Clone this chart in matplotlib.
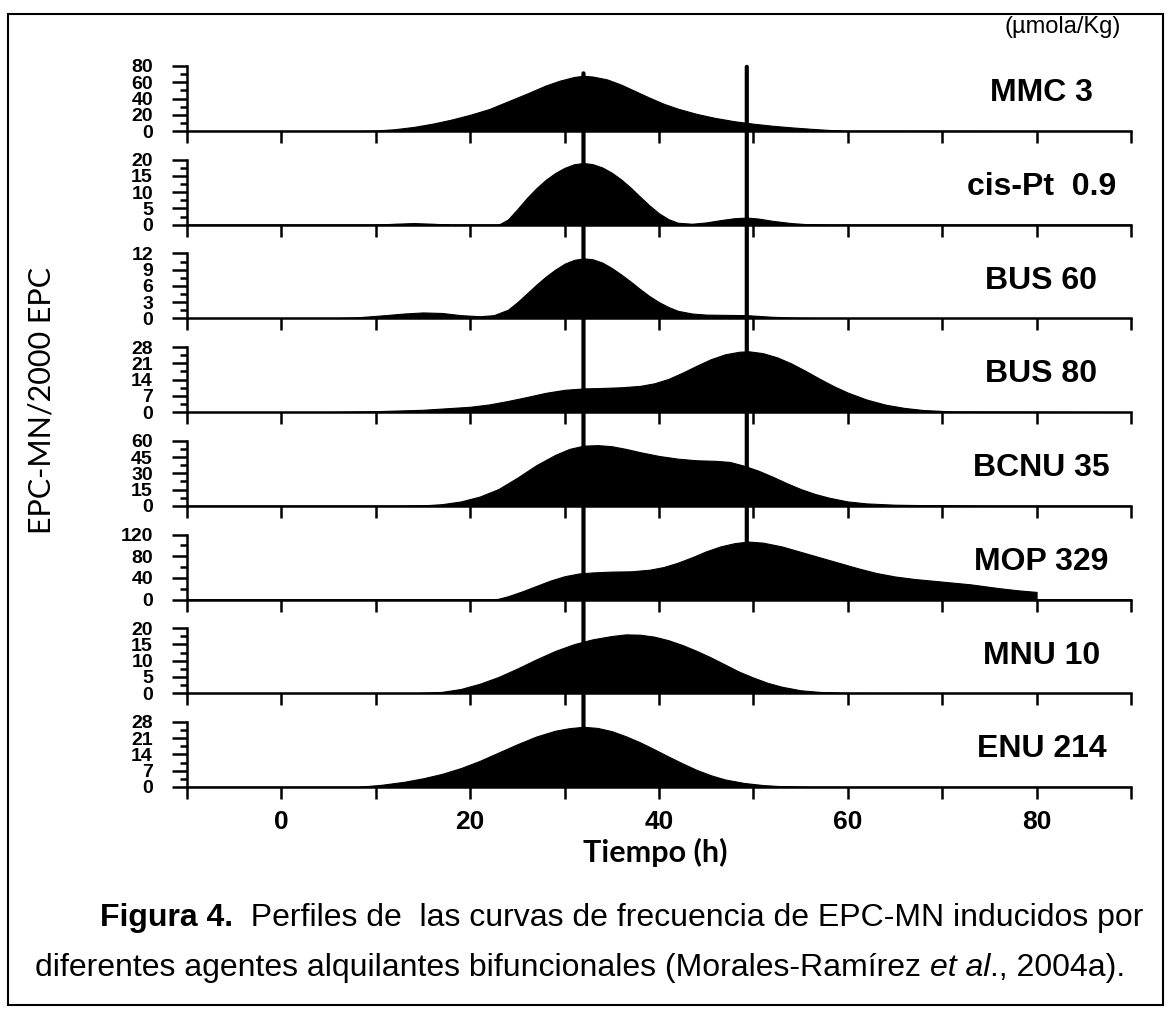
import numpy as np
import matplotlib
matplotlib.use("Agg")
import matplotlib.pyplot as plt
from matplotlib.patches import ConnectionPatch, Rectangle
from matplotlib.ticker import MultipleLocator

plt.rcParams['font.family'] = ['Liberation Sans', 'DejaVu Sans']

# agents and dose (µmola/Kg), top to bottom
agents = ["MMC 3", "cis-Pt  0.9", "BUS 60", "BUS 80", "BCNU 35", "MOP 329", "MNU 10", "ENU 214"]
y_ticks = [
    [0, 20, 40, 60, 80],
    [0, 5, 10, 15, 20],
    [0, 3, 6, 9, 12],
    [0, 7, 14, 21, 28],
    [0, 15, 30, 45, 60],
    [0, 40, 80, 120],
    [0, 5, 10, 15, 20],
    [0, 7, 14, 21, 28],
]

# curves: time (h) and EPC-MN/2000 EPC
mmc_t = [-10, 0, 8, 10, 12, 14, 16, 18, 20, 22, 24, 26, 28, 29.5, 31, 32, 33, 34.5, 36, 37.5, 39, 40.5, 42, 44, 46, 48, 50, 52, 54, 56, 58, 60, 90]
mmc_y = [0, 0, 0, 0.6, 2.2, 5, 9, 14, 20, 27, 36.5, 46, 56, 62, 66.5, 68, 67, 63.5, 57, 49, 41, 33.5, 27.5, 21, 16, 12, 9, 6.5, 4.5, 2.8, 1.3, 0.3, 0]

cis_t = [-10, 10, 12, 14, 16, 18, 23, 24, 25, 26, 27, 28, 29, 30, 31, 32, 33, 34, 35, 36, 37, 38, 39, 40, 41, 42, 43.5, 45, 46.5, 48, 49.3, 50.5, 52, 54, 56, 58, 90]
cis_y = [0, 0, 0.3, 0.5, 0.3, 0, 0, 1.6, 4.8, 8.2, 11.2, 13.8, 15.9, 17.5, 18.6, 19, 18.6, 17.6, 16, 13.9, 11.4, 8.6, 5.9, 3.5, 1.7, 0.6, 0.3, 0.7, 1.4, 2.0, 2.2, 1.9, 1.2, 0.5, 0.1, 0, 0]

bus60_t = [-10, 5, 8, 11, 13, 15, 17, 19, 21, 22.5, 24, 25, 26, 27, 28, 29, 30, 31, 32, 33, 34, 35, 36, 37, 38, 39, 40, 41, 42, 43.5, 45, 49.3, 52, 55, 60, 90]
bus60_y = [0, 0, 0.2, 0.6, 0.9, 1.1, 1.0, 0.6, 0.4, 0.6, 1.6, 3.0, 4.6, 6.2, 7.7, 9.0, 10.1, 10.8, 11.1, 10.9, 10.3, 9.3, 8.1, 6.8, 5.4, 4.1, 3.0, 2.1, 1.4, 0.9, 0.7, 0.6, 0.3, 0.1, 0, 0]

bus80_t = [-10, 5, 10, 15, 20, 22, 24, 26, 28, 30, 32, 34, 36, 38, 39.5, 41, 42.5, 44, 45.5, 47, 48.5, 49.5, 51, 52.5, 54, 55.5, 57, 58.5, 60, 62, 64, 66, 68, 71, 90]
bus80_y = [0, 0, 0.4, 1, 2.3, 3.3, 4.8, 6.5, 8.3, 9.6, 10.2, 10.4, 10.7, 11.3, 12.4, 14.3, 17, 20, 22.8, 24.9, 26, 26.2, 25.4, 23.6, 21, 17.8, 14.4, 11.2, 8.4, 5.4, 3.2, 1.8, 0.9, 0.3, 0]

bcnu_t = [-10, 12, 15, 17, 19, 21, 23, 25, 27, 29, 30.5, 32, 33.5, 35, 36.5, 38, 40, 42, 44, 46, 47.5, 49, 50.5, 52, 53.5, 55, 56.5, 58, 60, 62, 65, 70, 75, 90]
bcnu_y = [0, 0, 0.4, 1.5, 4, 8.5, 15.5, 26, 37.5, 47, 52.5, 55.5, 56, 55, 52.5, 49.5, 46, 43.5, 42, 41.5, 40.5, 37, 32.5, 27, 21, 15.5, 11, 7.5, 4, 2.2, 1.0, 0.4, 0, 0]

mop_t = [-10, 20, 22.9, 24, 25.5, 27, 28.5, 30, 31.5, 33, 35, 37, 39, 40.5, 42, 43.5, 45, 46.5, 48, 49.4, 51, 53, 55, 57, 59, 61, 63, 65, 67, 70, 73, 76, 78, 80, 80, 90]
mop_y = [0, 0, 1, 6, 15, 25, 35, 43, 48, 50, 51.5, 52, 55, 60, 68, 78, 89, 98, 104, 107, 105, 98, 88, 78, 68, 58, 49, 42.5, 38, 33, 28, 21, 17, 14, 0, 0]

mnu_t = [-10, 14, 17, 19, 21, 23, 25, 27, 29, 31, 33, 35, 36.5, 38, 39.5, 41, 42.5, 44, 45.5, 47, 48.5, 50, 51.5, 53, 55, 57, 60, 90]
mnu_y = [0, 0, 0.4, 1.3, 2.9, 5, 7.6, 10.4, 13, 15.1, 16.6, 17.6, 18.1, 18, 17.4, 16.3, 14.8, 13, 11, 8.8, 6.6, 4.8, 3.2, 2.0, 0.9, 0.4, 0.1, 0]

enu_t = [-10, 8, 10.6, 13, 15, 17, 19, 21, 23, 25, 27, 29, 30.5, 32, 33.5, 35, 36.5, 38, 39.5, 41, 42.5, 44, 45.5, 47, 49, 51, 53, 56, 90]
enu_y = [0, 0, 0.9, 2.2, 3.7, 5.6, 8.1, 11.2, 14.8, 18.4, 21.7, 24.2, 25.3, 25.9, 25.4, 24, 21.8, 19.2, 16.2, 13.1, 10.1, 7.3, 5, 3.2, 1.7, 0.8, 0.3, 0, 0]

curves = [(mmc_t, mmc_y), (cis_t, cis_y), (bus60_t, bus60_y), (bus80_t, bus80_y),
          (bcnu_t, bcnu_y), (mop_t, mop_y), (mnu_t, mnu_y), (enu_t, enu_y)]

x_ticks = list(range(-10, 91, 10))

W, H = 1171, 1018
fig = plt.figure(figsize=(W / 100, H / 100), dpi=100)

axes = []
for i in range(8):
    base = 131 + 93.7 * i
    ax = fig.add_axes([187 / W, 1 - base / H, 944 / W, 65 / H])
    ax.patch.set_alpha(0)
    t, y = curves[i]
    ax.fill_between(t, y, 0, color='black', lw=0.8, ec='black')
    ax.set_xlim(-10, 90)
    ax.set_ylim(0, y_ticks[i][-1])
    for s in ['top', 'right']:
        ax.spines[s].set_visible(False)
    for s in ['left', 'bottom']:
        ax.spines[s].set_linewidth(1.8)
    ax.set_xticks(x_ticks)
    ax.set_xticklabels(['' if v % 20 else str(v) for v in x_ticks])
    ax.tick_params(axis='x', direction='out', length=8.5, width=1.8, pad=8,
                   labelbottom=(i == 7), labelsize=19)
    ax.set_yticks(y_ticks[i])
    step = y_ticks[i][1] - y_ticks[i][0]
    ax.yaxis.set_minor_locator(MultipleLocator(step / 2))
    ax.tick_params(axis='y', which='major', direction='out', length=10.5, width=1.8,
                   pad=14, labelsize=14)
    ax.tick_params(axis='y', which='minor', direction='out', length=5, width=1.8)
    for lbl in ax.get_yticklabels() + ax.get_xticklabels():
        lbl.set_fontweight('bold')
    ax.text(80.5, 0.58, agents[i], transform=ax.get_xaxis_transform(),
            ha='center', va='center', fontsize=23, fontweight='bold')
    axes.append(ax)

# reference lines at 32 h and ~49 h
line1 = ConnectionPatch(xyA=(32, 71), coordsA=axes[0].transData,
                        xyB=(32, 25.9), coordsB=axes[7].transData,
                        color='black', lw=3)
line2 = ConnectionPatch(xyA=(49.3, 79), coordsA=axes[0].transData,
                        xyB=(49.3, 107), coordsB=axes[5].transData,
                        color='black', lw=3)
fig.add_artist(line1)
fig.add_artist(line2)

fig.text(1063 / W, 1 - 27 / H, "(µmola/Kg)", ha='center', va='center', fontsize=17)
fig.text(42 / W, 1 - 400 / H, "EPC-MN/2000 EPC", rotation=90, ha='center', va='center',
         fontsize=22, family=['Lato', 'DejaVu Sans'])
fig.text(655 / W, 1 - 852 / H, "Tiempo (h)", ha='center', va='center',
         fontsize=22, fontweight='bold', family=['Lato', 'DejaVu Sans'])

# caption
bg = fig.add_axes([0, 0, 1, 1])
bg.axis('off')
bg.set_zorder(-1)
cap = 23
t1 = bg.text(100 / W, 1 - 933 / H, "Figura 4.", fontsize=cap, fontweight='bold',
             ha='left', va='bottom', transform=bg.transAxes)
bg.annotate("  Perfiles de  las curvas de frecuencia de EPC-MN inducidos por",
            xy=(1, 0), xycoords=t1, ha='left', va='bottom', fontsize=cap)
t2 = bg.text(35 / W, 1 - 983 / H, "diferentes agentes alquilantes bifuncionales (Morales-Ramírez ",
             fontsize=cap, ha='left', va='bottom', transform=bg.transAxes)
t3 = bg.annotate("et al", xy=(1, 0), xycoords=t2, ha='left', va='bottom',
                 fontsize=cap, style='italic')
bg.annotate("., 2004a).", xy=(1, 0), xycoords=t3, ha='left', va='bottom', fontsize=cap)

fig.add_artist(Rectangle((8 / W, 1 - 1005 / H), 1155 / W, 991 / H, transform=fig.transFigure,
                         fill=False, ec='black', lw=1.5))

fig.savefig("out.png", dpi=100)
